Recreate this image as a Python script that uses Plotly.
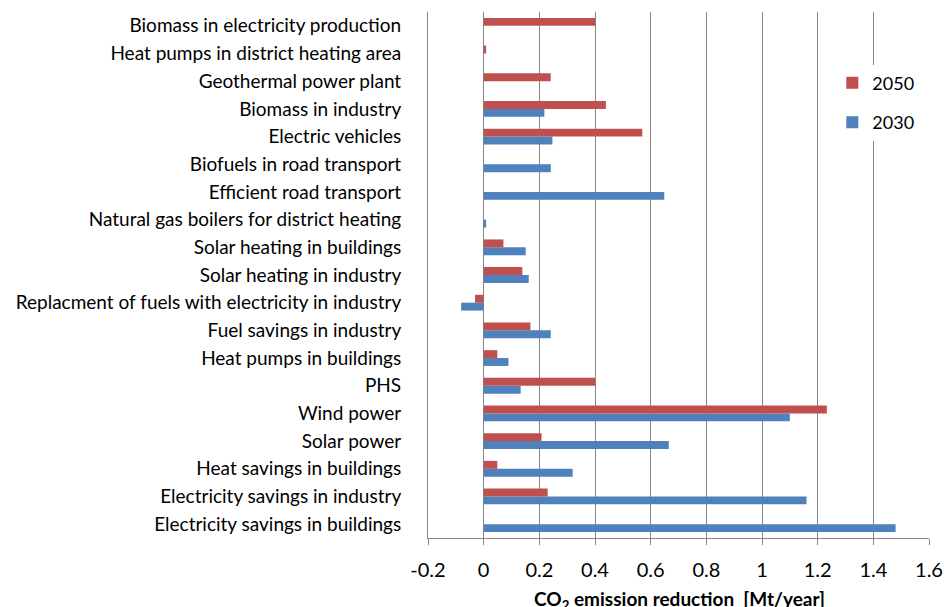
import plotly.graph_objects as go

categories = [
    "Electricity savings in buildings",
    "Electricity savings in industry",
    "Heat savings in buildings",
    "Solar power",
    "Wind power",
    "PHS",
    "Heat pumps in buildings",
    "Fuel savings in industry",
    "Replacment of fuels with electricity in industry",
    "Solar heating in industry",
    "Solar heating in buildings",
    "Natural gas boilers for district heating",
    "Efficient road transport",
    "Biofuels in road transport",
    "Electric vehicles",
    "Biomass in industry",
    "Geothermal power plant",
    "Heat pumps in district heating area",
    "Biomass in electricity production",
]

values_2030 = [1.48, 1.16, 0.32, 0.665, 1.10, 0.133, 0.089, 0.241, -0.081, 0.162,
               0.151, 0.009, 0.649, 0.241, 0.247, 0.218, 0, 0, 0]
values_2050 = [0, 0.23, 0.049, 0.208, 1.233, 0.40, 0.049, 0.168, -0.031, 0.139,
               0.071, 0, 0, 0, 0.57, 0.439, 0.241, 0.009, 0.40]

x_ticks = [-0.2, 0, 0.2, 0.4, 0.6, 0.8, 1.0, 1.2, 1.4, 1.6]
x_tick_labels = ["-0.2", "0", "0.2", "0.4", "0.6", "0.8", "1", "1.2", "1.4", "1.6"]
x_title = "<b>CO<sub>2</sub> emission reduction  [Mt/year]</b>"

FONT = "Lato, 'Open Sans', sans-serif"

fig = go.Figure()
fig.add_trace(go.Bar(
    y=categories, x=values_2030, name="2030", orientation="h",
    legendgroup="g2030", legendrank=2,
    marker=dict(color="#4F81BD", line=dict(width=0)),
))
fig.add_trace(go.Bar(
    y=categories, x=values_2050, name="2050", orientation="h",
    legendgroup="g2050", legendrank=1,
    marker=dict(color="#C0504D", line=dict(width=0)),
))

fig.add_annotation(
    text=x_title, xref="paper", yref="paper", x=0.501, y=-0.118,
    xanchor="center", yanchor="middle", showarrow=False,
    font=dict(size=19, family=FONT, color="black"),
)

fig.update_layout(
    width=944, height=607,
    margin=dict(l=428, r=15, t=12, b=69, autoexpand=False),
    paper_bgcolor="white", plot_bgcolor="white",
    barmode="group", bargap=0.43, bargroupgap=0,
    font=dict(family=FONT, size=19, color="black"),
    showlegend=True,
    legend=dict(
        x=0.807, y=0.9, xanchor="left", yanchor="top",
        traceorder="grouped", bgcolor="white",
        font=dict(size=18, family=FONT),
        itemsizing="constant", tracegroupgap=13,
        itemwidth=30,
    ),
    xaxis=dict(
        range=[-0.2, 1.6], tickvals=x_ticks, ticktext=x_tick_labels,
        automargin=False,
        showgrid=True, gridcolor="#868686", gridwidth=1,
        zeroline=False,
        showline=True, linecolor="#868686", linewidth=1,
        ticks="outside", ticklen=6, tickcolor="#868686",
        ticklabelstandoff=8,
        tickfont=dict(size=20, family=FONT),
    ),
    yaxis=dict(
        type="category", categoryorder="array", categoryarray=categories,
        range=[-0.5, 18.5],
        automargin=False,
        showgrid=False, zeroline=False,
        showline=True, linecolor="#868686", linewidth=1,
        ticks="", ticklabelstandoff=22,
        tickfont=dict(size=19, family=FONT),
    ),
)

fig.write_html(
    "out.html",
    config={"displayModeBar": False},
    post_script="document.body.style.margin='0';document.body.style.overflow='hidden';",
)
